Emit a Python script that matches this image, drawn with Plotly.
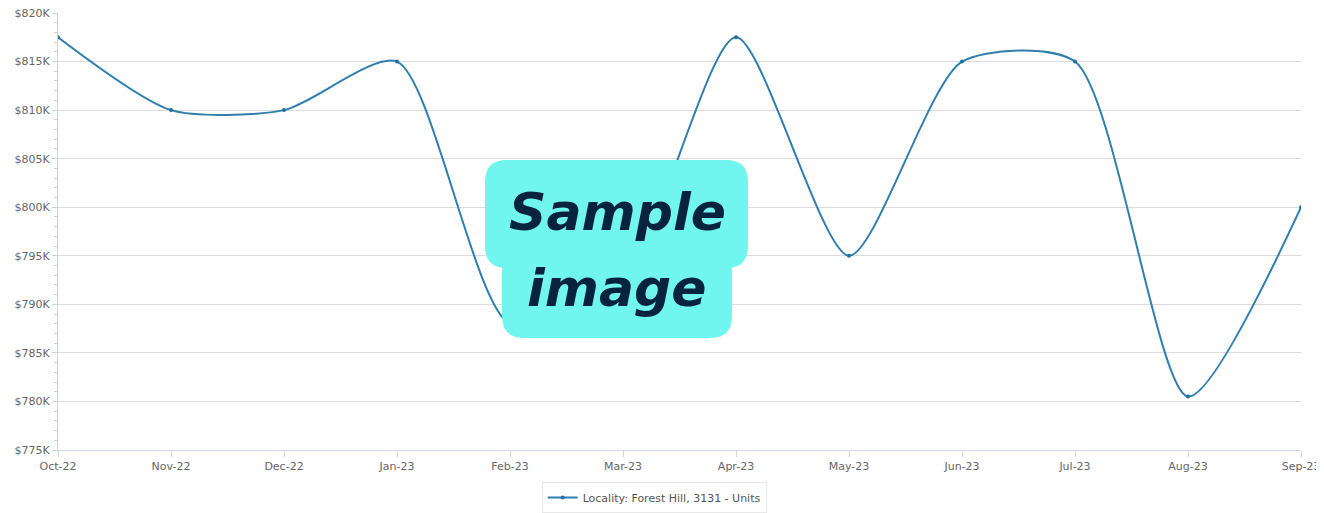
import plotly.graph_objects as go

months = ["Oct-22", "Nov-22", "Dec-22", "Jan-23", "Feb-23", "Mar-23",
          "Apr-23", "May-23", "Jun-23", "Jul-23", "Aug-23", "Sep-23"]
prices = [817500, 810000, 810000, 815000, 788000, 792500,
          817500, 795000, 815000, 815000, 780500, 800000]
series_name = "Locality: Forest Hill, 3131 - Units"
y_ticks = [775000, 780000, 785000, 790000, 795000, 800000, 805000, 810000, 815000, 820000]
y_labels = ["$%dK" % (v // 1000) for v in y_ticks]

# page body has an 8px margin; figure is placed at (8, 8)
OFF = 8
W, H = 1316, 505
L, R, T, B = 50, 23, 5, 63
pw, ph = W - L - R, H - T - B

def px(x):  # x in page pixels
    return (x - OFF - L) / pw

def py(y):
    return (H - B - (y - OFF)) / ph

def rrect(x0, y0, x1, y1, r):
    rx, ry = r / pw, r / ph
    a, b, c, d = px(x0), px(x1), py(y0), py(y1)  # c top, d bottom
    return (f"M {a+rx},{c} L {b-rx},{c} Q {b},{c} {b},{c-ry} "
            f"L {b},{d+ry} Q {b},{d} {b-rx},{d} L {a+rx},{d} "
            f"Q {a},{d} {a},{d+ry} L {a},{c-ry} Q {a},{c} {a+rx},{c} Z")

fig = go.Figure()
fig.add_trace(go.Scatter(
    x=months, y=prices, mode="lines+markers", name=series_name,
    line=dict(color="#2f7ead", width=2, shape="spline", smoothing=0.7),
    marker=dict(size=4, color="#1f6f9f"),
    showlegend=True,
))

wm = "#71f6ef"
fig.add_shape(type="path", xref="paper", yref="paper", path=rrect(485, 160, 748, 268, 22),
              fillcolor=wm, line=dict(width=0), layer="above")
fig.add_shape(type="path", xref="paper", yref="paper", path=rrect(502, 250, 732, 338, 22),
              fillcolor=wm, line=dict(width=0), layer="above")
fig.add_annotation(xref="paper", yref="paper", x=px(617), y=py(212), text="<b><i>Sample</i></b>",
                   showarrow=False, font=dict(family="DejaVu Sans", size=52, color="#08233d"))
fig.add_annotation(xref="paper", yref="paper", x=px(617), y=py(288), text="<b><i>image</i></b>",
                   showarrow=False, font=dict(family="DejaVu Sans", size=52, color="#08233d"))

fig.update_layout(
    width=W, height=H,
    margin=dict(l=L, r=R, t=T, b=B),
    paper_bgcolor="white", plot_bgcolor="white",
    font=dict(family="DejaVu Sans", size=11, color="#666666"),
    legend=dict(orientation="h", xref="container", yref="container", x=0.491, y=0.0,
                xanchor="center", yanchor="bottom", bordercolor="#e8e8e8", borderwidth=1,
                font=dict(size=11, color="#555555")),
    xaxis=dict(type="category", range=[0, 11], showgrid=False, ticks="outside", ticklen=6,
               tickcolor="#ccd6eb", showline=True, linecolor="#ccd6eb", linewidth=1,
               tickfont=dict(size=11, color="#666666"), zeroline=False, automargin=False,
               ticklabeloverflow="allow"),
    yaxis=dict(range=[775000, 820000], tickvals=y_ticks, ticktext=y_labels,
               showgrid=True, gridcolor="#dcdcdc", gridwidth=1, showline=True,
               linecolor="#d0d0d0", ticks="outside", ticklen=5, tickcolor="#d0d0d0",
               minor=dict(dtick=1000, ticks="outside", ticklen=3, tickcolor="#d0d0d0", showgrid=False),
               tickfont=dict(size=11, color="#666666"), zeroline=False, automargin=False,
               ticklabeloverflow="allow"),
)

fig.write_html("out.html")
